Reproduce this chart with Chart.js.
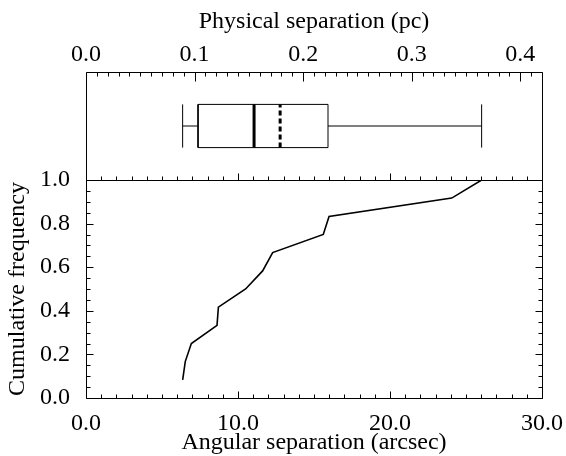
<!DOCTYPE html>
<html>
<head>
<meta charset="utf-8">
<script src="https://cdn.jsdelivr.net/npm/chart.js@4/dist/chart.umd.min.js"></script>
<style>
  html, body { margin: 0; padding: 0; background: #fff; }
  #wrap { width: 566px; height: 456px; }
</style>
</head>
<body>
<div id="wrap"><canvas id="c" width="566" height="456"></canvas></div>
<script>
// ---- data ----
const angularSep = [6.36, 6.53, 6.93, 8.62, 8.71, 10.5, 11.62, 12.28, 15.61, 15.99, 24.06, 26.03]; // arcsec
const cumFreq    = [0.083, 0.167, 0.25, 0.333, 0.417, 0.5, 0.583, 0.667, 0.75, 0.833, 0.917, 1.0];
// box plot statistics on the physical-separation axis (pc)
const boxMin    = 0.0890;
const boxQ1     = 0.1032;
const boxMedian = 0.1548;
const boxMean   = 0.1788;
const boxQ3     = 0.2229;
const boxMax    = 0.3644;
// tick labels
const xTicks  = [0, 10, 20, 30];
const pcTicks = [0.0, 0.1, 0.2, 0.3, 0.4];
const yTicks  = [0.0, 0.2, 0.4, 0.6, 0.8, 1.0];

const FONT = "'Liberation Serif', 'Times New Roman', serif";
const BOX_LO = 0.3, BOX_HI = 0.7, BOX_MID = 0.5;

function seg(points, width, dash) {
  return {
    type: 'line', data: points, xAxisID: 'xTop', yAxisID: 'yBox',
    borderColor: '#000', borderWidth: width, borderDash: dash || [],
    pointRadius: 0, fill: false, tension: 0
  };
}

const tickPlugin = {
  id: 'frameTicks',
  afterDatasetsDraw(chart) {
    const {ctx, chartArea: a, scales} = chart;
    const sx = scales.x, sp = scales.xTop, sy = scales.y;
    const mid = sy.top;
    const px = v => Math.round(v) + 0.5;
    ctx.save();
    ctx.strokeStyle = '#000';
    ctx.lineWidth = 1;
    ctx.beginPath();
    // frame
    ctx.rect(px(a.left), px(a.top), Math.round(a.right) - Math.round(a.left), Math.round(a.bottom) - Math.round(a.top));
    ctx.moveTo(px(a.left), px(mid)); ctx.lineTo(px(a.right), px(mid));
    // top axis (pc) ticks pointing down
    for (let i = 0; i <= 42; i++) {
      const v = i / 100;
      const x = px(sp.getPixelForValue(v));
      const len = (i % 10 === 0) ? 9 : 4;
      ctx.moveTo(x, px(a.top)); ctx.lineTo(x, px(a.top) + len);
    }
    // arcsec ticks at mid line and bottom, pointing up
    for (let i = 0; i <= 30; i++) {
      const x = px(sx.getPixelForValue(i));
      const len = (i % 10 === 0) ? 7 : 4;
      ctx.moveTo(x, px(mid)); ctx.lineTo(x, px(mid) - len);
      ctx.moveTo(x, px(a.bottom)); ctx.lineTo(x, px(a.bottom) - len);
    }
    // y ticks left & right, pointing inward
    for (let i = 0; i <= 20; i++) {
      const v = i / 20;
      const y = px(sy.getPixelForValue(v));
      const len = (i % 4 === 0) ? 7 : 4;
      ctx.moveTo(px(a.left), y); ctx.lineTo(px(a.left) + len, y);
      ctx.moveTo(px(a.right), y); ctx.lineTo(px(a.right) - len, y);
    }
    ctx.stroke();
    ctx.restore();
  }
};

const tickFont = {family: FONT, size: 24};
const titleFont = {family: FONT, size: 24};

new Chart(document.getElementById('c'), {
  type: 'line',
  data: {
    datasets: [
      {
        data: angularSep.map((v, i) => ({x: v, y: cumFreq[i]})),
        xAxisID: 'x', yAxisID: 'y',
        borderColor: '#000', borderWidth: 1.6, pointRadius: 0, fill: false, tension: 0
      },
      // box
      seg([{x: boxQ1, y: BOX_LO}, {x: boxQ3, y: BOX_LO}, {x: boxQ3, y: BOX_HI}, {x: boxQ1, y: BOX_HI}, {x: boxQ1, y: BOX_LO}], 1),
      // whiskers
      seg([{x: boxMin, y: BOX_MID}, {x: boxQ1, y: BOX_MID}], 1),
      seg([{x: boxQ3, y: BOX_MID}, {x: boxMax, y: BOX_MID}], 1),
      seg([{x: boxMin, y: BOX_LO}, {x: boxMin, y: BOX_HI}], 1),
      seg([{x: boxMax, y: BOX_LO}, {x: boxMax, y: BOX_HI}], 1),
      // median & mean
      seg([{x: boxMedian, y: BOX_LO}, {x: boxMedian, y: BOX_HI}], 3),
      seg([{x: boxMean, y: BOX_LO}, {x: boxMean, y: BOX_HI}], 3, [5, 3])
    ]
  },
  options: {
    responsive: false,
    animation: false,
    layout: {padding: {left: 0, right: 24, top: 0, bottom: 0}},
    plugins: {legend: {display: false}, tooltip: {enabled: false}},
    scales: {
      x: {
        type: 'linear', position: 'bottom', min: 0, max: 30,
        afterBuildTicks: s => { s.ticks = xTicks.map(v => ({value: v})); },
        afterFit: s => { s.height = 58; s.paddingLeft = 0; s.paddingRight = 0; },
        grid: {display: false, drawTicks: false}, border: {display: false},
        ticks: {color: '#000', font: tickFont, padding: 11, maxRotation: 0, autoSkip: false, callback: v => Number(v).toFixed(1)},
        title: {display: true, text: 'Angular separation (arcsec)', color: '#000', font: {family: FONT, size: 24, lineHeight: 1.1}, padding: {top: 0, bottom: 0}}
      },
      xTop: {
        type: 'linear', position: 'top', min: 0, max: 0.42,
        afterBuildTicks: s => { s.ticks = pcTicks.map(v => ({value: v})); },
        afterFit: s => { s.height = 72; s.paddingLeft = 0; s.paddingRight = 0; },
        grid: {display: false, drawTicks: false}, border: {display: false},
        ticks: {color: '#000', font: tickFont, padding: 3, maxRotation: 0, autoSkip: false, callback: v => Number(v).toFixed(1)},
        title: {display: true, text: 'Physical separation (pc)', color: '#000', font: titleFont, padding: {top: 7, bottom: 0}}
      },
      y: {
        type: 'linear', position: 'left', stack: 'panels', stackWeight: 218, min: 0, max: 1,
        afterBuildTicks: s => { s.ticks = yTicks.map(v => ({value: v})); },
        afterFit: s => { s.width = 86; s.paddingTop = 0; s.paddingBottom = 0; },
        grid: {display: false, drawTicks: false}, border: {display: false},
        ticks: {color: '#000', font: tickFont, padding: 16, autoSkip: false, callback: v => Number(v).toFixed(1)},
        title: {display: true, text: 'Cumulative frequency', color: '#000', font: titleFont, padding: {top: 3, bottom: 0}}
      },
      yBox: {
        type: 'linear', position: 'left', stack: 'panels', stackWeight: 108, min: 0, max: 1,
        afterFit: s => { s.width = 86; },
        grid: {display: false, drawTicks: false}, border: {display: false},
        ticks: {display: false}
      }
    }
  },
  plugins: [tickPlugin]
});
</script>
</body>
</html>
